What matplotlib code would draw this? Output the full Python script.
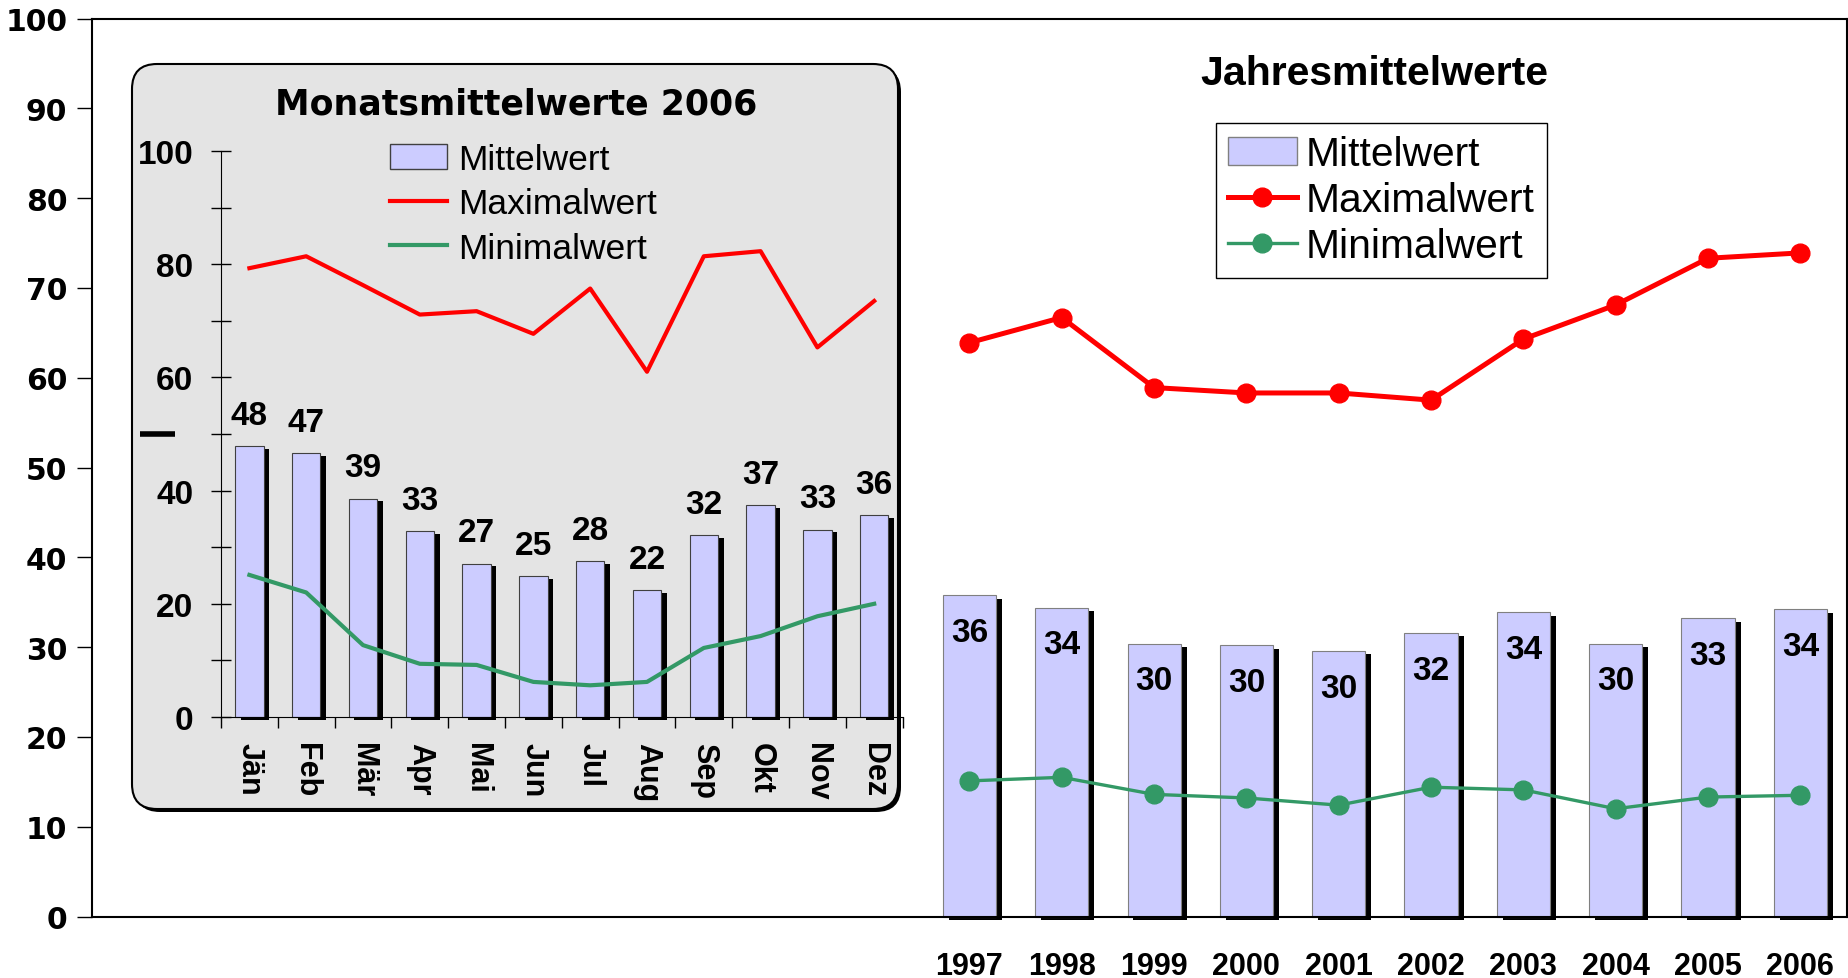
import numpy as np

import matplotlib
matplotlib.use('Agg')
from matplotlib import pyplot as plt
from matplotlib import patches as mpatches
from matplotlib import patheffects as mpe
from matplotlib import lines as mlines
from matplotlib import ticker as mticker

# Jahresmittelwerte (main chart)
years     = ['1997', '1998', '1999', '2000', '2001', '2002', '2003', '2004', '2005', '2006']
year_mean = [35.8, 34.4, 30.4, 30.2, 29.6, 31.6, 33.9, 30.4, 33.2, 34.2]
year_max  = [63.9, 66.7, 58.9, 58.3, 58.3, 57.5, 64.3, 68.1, 73.3, 73.9]
year_min  = [15.1, 15.5, 13.6, 13.2, 12.4, 14.4, 14.1, 12.0, 13.3, 13.5]

# Monatsmittelwerte 2006 (inset)
months     = ['Jän', 'Feb', 'Mär', 'Apr', 'Mai', 'Jun', 'Jul', 'Aug', 'Sep', 'Okt', 'Nov', 'Dez']
month_mean = [47.8, 46.6, 38.6, 32.8, 27.1, 24.9, 27.6, 22.4, 32.2, 37.4, 33.1, 35.7]
month_max  = [79.3, 81.4, 76.3, 71.1, 71.7, 67.7, 75.7, 61.0, 81.4, 82.3, 65.3, 73.5]
month_min  = [25.1, 22.0, 12.7, 9.4, 9.2, 6.2, 5.6, 6.2, 12.2, 14.3, 17.8, 20.0]

n_empty = 9   # empty categories left of 1997 in the main chart

W, H = 1848, 979
BAR  = '#CCCCFF'
RED  = '#FF0000'
GRN  = '#339966'
SANS = 'Liberation Sans'


def shadow(dx, dy):
    return [mpe.SimplePatchShadow(offset=(dx, dy), shadow_rgbFace='k', alpha=1.0),
            mpe.Normal()]


def main():

    fig = plt.figure(figsize=(W / 100, H / 100), dpi=100)

    # Main chart
    ax = fig.add_axes([92.3 / W, 1 - 917.5 / H, (1846.5 - 92.3) / W, (917.5 - 19.5) / H],
                      zorder=0)
    x = np.arange(n_empty, n_empty + len(years))
    bars = ax.bar(x, year_mean, width=0.575, color=BAR, edgecolor='#808080',
                  linewidth=0.8, zorder=2, clip_on=False)
    for b in bars:
        b.set_path_effects(shadow(4.3, -2.7))
    ax.plot(x, year_max, color=RED, lw=3.6, marker='o', ms=13.5, zorder=3)
    ax.plot(x, year_min, color=GRN, lw=2.4, marker='o', ms=13.5, zorder=3)
    for xi, v in zip(x, year_mean):
        ax.annotate('%.0f' % v, (xi, v), xytext=(0, -33), textcoords='offset points',
                    ha='center', va='baseline', fontsize=24, fontweight='bold',
                    family=SANS, zorder=4)

    ax.set_xlim(-0.5, n_empty + len(years) - 0.5)
    ax.set_ylim(0, 100)
    ax.set_xticks(x, years)
    ax.yaxis.set_major_locator(mticker.MultipleLocator(10))
    ax.tick_params(axis='x', length=0, pad=25)
    ax.tick_params(axis='y', direction='out', length=11, width=1, pad=7)
    for lab in ax.get_xticklabels():
        lab.set_fontsize(22); lab.set_fontweight('bold'); lab.set_family(SANS)
    for lab in ax.get_yticklabels():
        lab.set_fontsize(21.5); lab.set_fontweight('bold'); lab.set_family('DejaVu Sans')
    for s in ax.spines.values():
        s.set_linewidth(1.5)

    h_bar = mpatches.Patch(facecolor=BAR, edgecolor='#808080', lw=1)
    h_max = mlines.Line2D([], [], color=RED, lw=3.6, marker='o', ms=13.5)
    h_min = mlines.Line2D([], [], color=GRN, lw=2.4, marker='o', ms=13.5)
    leg = ax.legend([h_bar, h_max, h_min], ['Mittelwert', 'Maximalwert', 'Minimalwert'],
                    loc='upper left', bbox_to_anchor=(1216 / W, 1 - 124 / H),
                    bbox_transform=fig.transFigure, frameon=True, fancybox=False,
                    edgecolor='black', framealpha=1, borderpad=0.3, borderaxespad=0,
                    handlelength=1.68, handletextpad=0.22, labelspacing=0.2,
                    prop=dict(family=SANS, size=29.3))
    leg.get_frame().set_linewidth(1)

    # Overlay in pixel coordinates: inset box and titles
    bg = fig.add_axes([0, 0, 1, 1], zorder=1)
    bg.set_xlim(0, W)
    bg.set_ylim(H, 0)
    bg.axis('off')
    bg.add_patch(mpatches.FancyBboxPatch((135, 68), 766, 745,
                                         boxstyle='round,pad=0,rounding_size=25',
                                         fc='black', ec='none'))
    bg.add_patch(mpatches.FancyBboxPatch((132, 65), 766, 745,
                                         boxstyle='round,pad=0,rounding_size=25',
                                         fc='#e4e4e4', ec='black', lw=1.5))
    bg.text(1374.6, 85, 'Jahresmittelwerte', ha='center', va='baseline',
            fontsize=29.5, fontweight='bold', family=SANS)
    bg.text(516, 114.6, 'Monatsmittelwerte 2006', ha='center', va='baseline',
            fontsize=25, fontweight='bold', family='DejaVu Sans')

    # Inset chart
    ins = fig.add_axes([221 / W, 1 - 718 / H, 681.6 / W, 566 / H], zorder=2)
    ins.patch.set_visible(False)
    m = np.arange(len(months))
    mbars = ins.bar(m, month_mean, width=0.5, color=BAR, edgecolor='#404040',
                    linewidth=0.8, zorder=2, clip_on=False)
    for b in mbars:
        b.set_path_effects(shadow(4.0, -2.0))
    ins.plot(m, month_max, color=RED, lw=3, zorder=3)
    ins.plot(m, month_min, color=GRN, lw=3, zorder=3)
    for xi, v in zip(m, month_mean):
        ins.annotate('%.0f' % v, (xi, v), xytext=(0, 16), textcoords='offset points',
                     ha='center', va='baseline', fontsize=24, fontweight='bold',
                     family=SANS)
    # stray tick mark left of the inset axis at 50
    ins.plot([-1.93, -1.31], [50, 50], color='k', lw=4, solid_capstyle='butt',
             clip_on=False)

    ins.set_xlim(-0.5, len(months) - 0.5)
    ins.set_ylim(0, 100)
    ins.set_xticks(m, months)
    ins.set_xticks(np.arange(-0.5, len(months), 1.0), minor=True)
    ins.yaxis.set_major_locator(mticker.MultipleLocator(20))
    ins.yaxis.set_minor_locator(mticker.MultipleLocator(10))
    ins.tick_params(axis='x', which='major', length=0, pad=18)
    ins.tick_params(axis='x', which='minor', direction='out', length=8, width=1)
    ins.tick_params(axis='y', which='both', direction='inout', length=14, width=1, pad=13)
    for lab in ins.get_xticklabels():
        lab.set_fontsize(22); lab.set_fontweight('bold'); lab.set_family(SANS)
        lab.set_rotation(-90); lab.set_va('top')
    for lab in ins.get_yticklabels():
        lab.set_fontsize(24); lab.set_fontweight('bold'); lab.set_family(SANS)
    ins.spines['top'].set_visible(False)
    ins.spines['right'].set_visible(False)

    i_bar = mpatches.Patch(facecolor=BAR, edgecolor='#404040', lw=1)
    i_max = mlines.Line2D([], [], color=RED, lw=3)
    i_min = mlines.Line2D([], [], color=GRN, lw=3)
    ins.legend([i_bar, i_max, i_min], ['Mittelwert', 'Maximalwert', 'Minimalwert'],
               loc='upper left', bbox_to_anchor=(390 / W, 1 - 143.5 / H),
               bbox_transform=fig.transFigure, frameon=False, borderpad=0,
               borderaxespad=0, handlelength=1.6, handletextpad=0.33,
               labelspacing=0.33, prop=dict(family=SANS, size=25.5))

    fname = 'out.png'
    print('Writing %s' % (fname))
    fig.savefig(fname, dpi=100)
    plt.close(fig)

if __name__ == '__main__': main()
